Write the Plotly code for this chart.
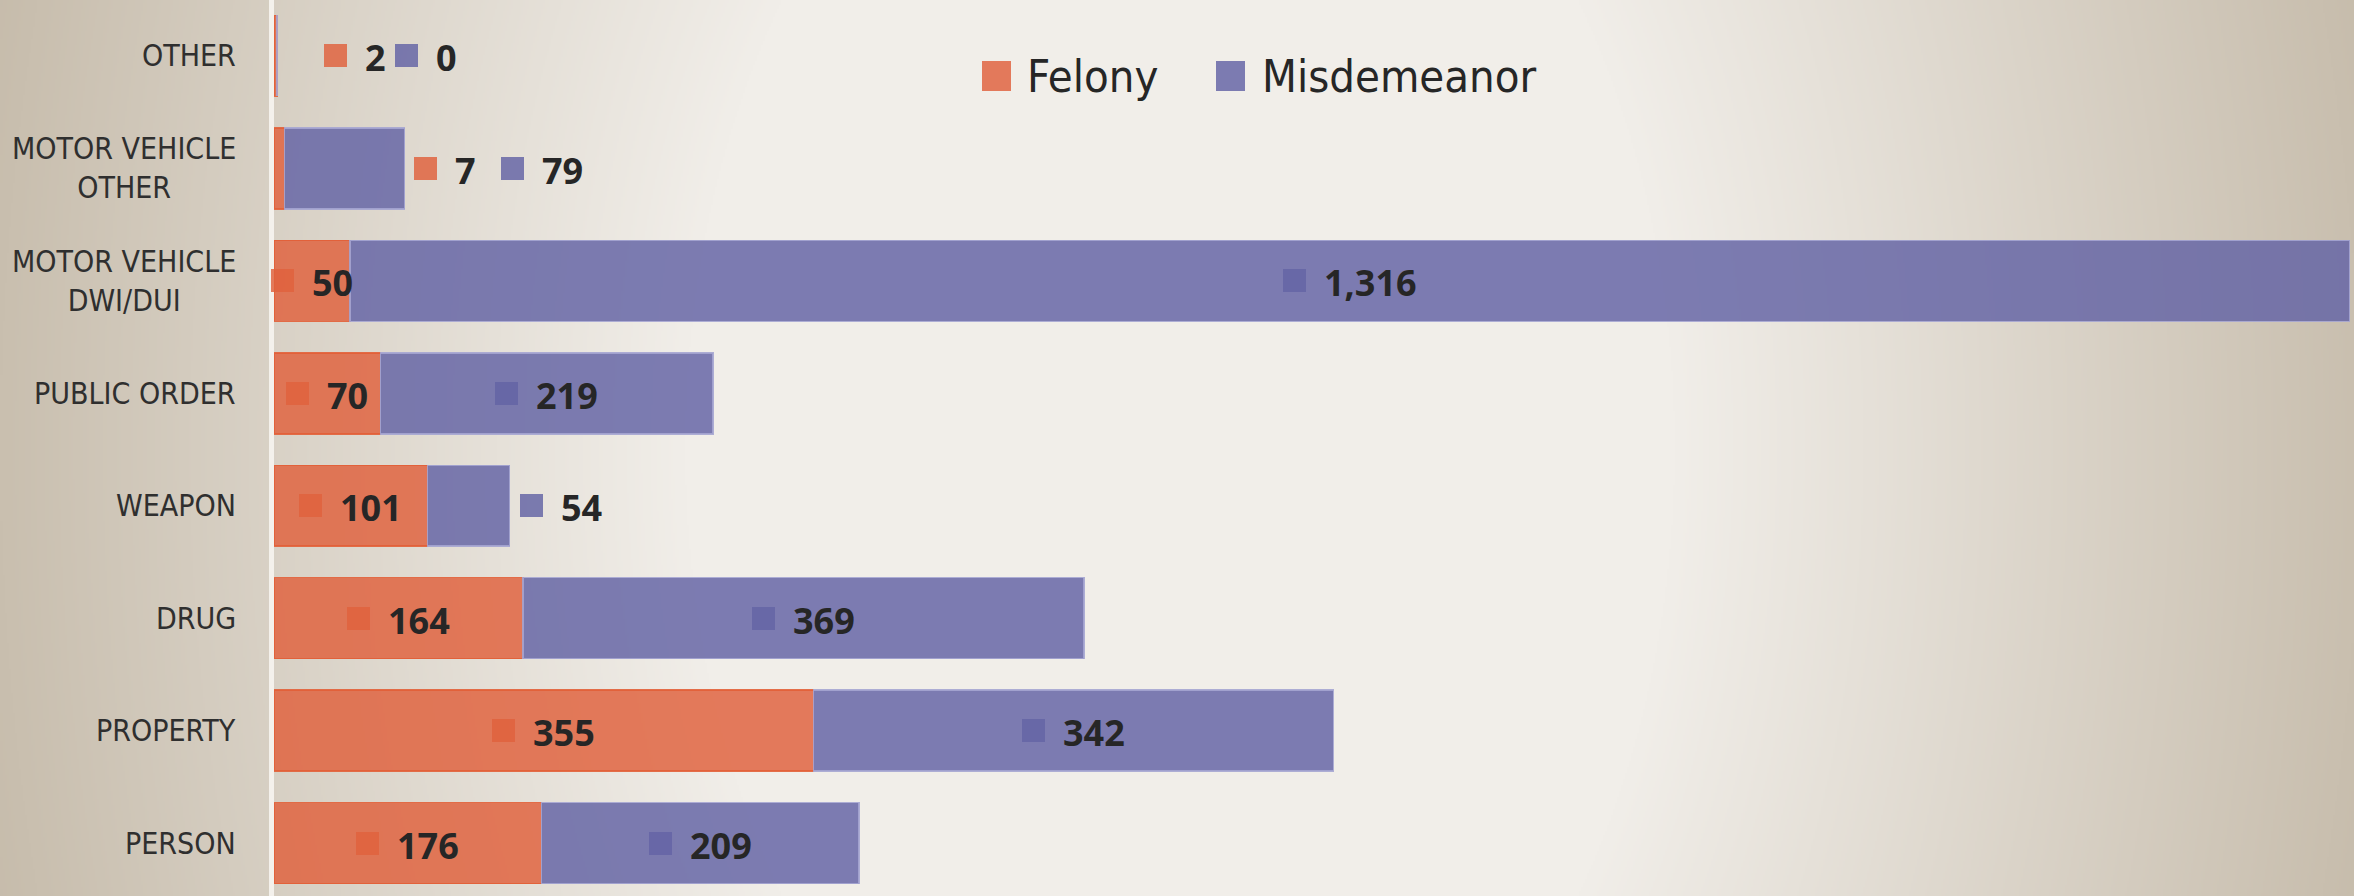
import base64
import struct
import zlib

import numpy as np
import plotly.graph_objects as go

# ---------------- data ----------------
CATEGORIES = ["OTHER", "MOTOR VEHICLE OTHER", "MOTOR VEHICLE DWI/DUI", "PUBLIC ORDER",
              "WEAPON", "DRUG", "PROPERTY", "PERSON"]
CATEGORY_LABELS = ["OTHER", "MOTOR VEHICLE<br>OTHER", "MOTOR VEHICLE<br>DWI/DUI", "PUBLIC ORDER",
                   "WEAPON", "DRUG", "PROPERTY", "PERSON"]
FELONY = [2, 7, 50, 70, 101, 164, 355, 176]
MISDEMEANOR = [0, 79, 1316, 219, 54, 369, 342, 209]
SERIES_NAMES = ["Felony", "Misdemeanor"]

# ---------------- layout / style ----------------
W, H = 2354, 896
ML, MR = 274, 4
PLOT_W = W - ML - MR
ALPHA = 0.83
FEL_RGB = (224, 98, 61)
MIS_RGB = (100, 100, 165)


def rgba(c, a):
    return f"rgba({c[0]},{c[1]},{c[2]},{a})"


LABEL_FONT = "DejaVu Sans Condensed, Open Sans, sans-serif"
NUM_FONT = "Open Sans, Noto Sans, sans-serif"
NUM_SIZE = 36
SQ = 23          # size of the key square inside data labels
SQ_GAP = 18      # gap between key square and number
OUTSIDE_SHIFT = {("OTHER", "Felony"): 47, ("OTHER", "Misdemeanor"): 118,
                 ("MOTOR VEHICLE OTHER", "Felony"): 9, ("MOTOR VEHICLE OTHER", "Misdemeanor"): 96,
                 ("WEAPON", "Misdemeanor"): 10}


# ---------------- background gradient (PNG built in memory) ----------------
def gradient_png(w, h):
    ys, xs = np.mgrid[0:h, 0:w].astype(float)
    sx, sy = W / w, H / h
    dx = (xs + 0.5) * sx - 1180.0
    dy = (ys + 0.5) * sy - 448.0
    t = np.sqrt((dx / 1180.0) ** 2 + (dy / 1800.0) ** 2)
    f = np.clip((t - 0.42) / 0.58, 0, 1.1)
    light = np.array([241, 238, 233], float)
    dark = np.array([201, 191, 175], float)
    img = light[None, None, :] + f[..., None] * (dark - light)[None, None, :]
    img = np.clip(img, 0, 255).astype(np.uint8)
    raw = b"".join(b"\x00" + img[r].tobytes() for r in range(h))

    def chunk(tag, data):
        return (struct.pack(">I", len(data)) + tag + data
                + struct.pack(">I", zlib.crc32(tag + data) & 0xFFFFFFFF))

    png = (b"\x89PNG\r\n\x1a\n"
           + chunk(b"IHDR", struct.pack(">IIBBBBB", w, h, 8, 2, 0, 0, 0))
           + chunk(b"IDAT", zlib.compress(raw, 9))
           + chunk(b"IEND", b""))
    return "data:image/png;base64," + base64.b64encode(png).decode()


fig = go.Figure()
fig.add_trace(go.Bar(
    y=CATEGORIES, x=FELONY, orientation="h", name=SERIES_NAMES[0], width=0.72,
    marker=dict(color=rgba(FEL_RGB, ALPHA), line=dict(color=rgba((226, 95, 55), 0.9), width=1.5)),
    hoverinfo="skip", showlegend=False))
fig.add_trace(go.Bar(
    y=CATEGORIES, x=MISDEMEANOR, orientation="h", name=SERIES_NAMES[1], width=0.72,
    marker=dict(color=rgba(MIS_RGB, ALPHA), line=dict(color="rgba(165,165,210,0.9)", width=1.5)),
    hoverinfo="skip", showlegend=False))

annotations = []

# category labels
for cat, lab in zip(CATEGORIES, CATEGORY_LABELS):
    annotations.append(dict(
        x=0, xref="paper", y=cat, yref="y", text=lab, showarrow=False,
        xanchor="right", yanchor="middle", align="center", xshift=-36,
        font=dict(family=LABEL_FONT, size=30, color="#2f2f2f")))


def num_width(txt):
    return sum(10.0 if ch == "," else 20.6 for ch in txt)


def add_label(cat, series, value, start, rgb):
    txt = f"{value:,}"
    group = SQ + SQ_GAP + num_width(txt)
    outside = (series == "Felony" and value < 20) or (series == "Misdemeanor" and value < 100)
    if outside:
        i = CATEGORIES.index(cat)
        xpos = FELONY[i] + MISDEMEANOR[i]
        shift = OUTSIDE_SHIFT.get((cat, series), 10)
    else:
        xpos = start + value / 2.0
        shift = -group / 2.0
    annotations.append(dict(
        x=xpos, xref="x", y=cat, yref="y", text=" ", showarrow=False,
        xanchor="left", yanchor="middle", xshift=shift, width=SQ, height=SQ,
        bgcolor=rgba(rgb, ALPHA), borderpad=0, borderwidth=0, font=dict(size=4)))
    annotations.append(dict(
        x=xpos, xref="x", y=cat, yref="y", text=txt, showarrow=False,
        xanchor="left", yanchor="middle", xshift=shift + SQ + SQ_GAP, yshift=-2,
        borderpad=0, borderwidth=0,
        font=dict(family=NUM_FONT, size=NUM_SIZE, color="#262626", weight=700)))


for cat, f, m in zip(CATEGORIES, FELONY, MISDEMEANOR):
    add_label(cat, "Felony", f, 0, FEL_RGB)
    add_label(cat, "Misdemeanor", m, f, MIS_RGB)


# custom legend
def px_to_paper_x(px):
    return (px - ML) / PLOT_W


def px_to_paper_y(py):
    return 1 - py / H


legend_items = [(SERIES_NAMES[0], FEL_RGB, 982, 1027), (SERIES_NAMES[1], MIS_RGB, 1216, 1262)]
for name, rgb, sqx, tx in legend_items:
    annotations.append(dict(
        x=px_to_paper_x(sqx), xref="paper", y=px_to_paper_y(76), yref="paper", text=" ",
        showarrow=False, xanchor="left", yanchor="middle", width=29, height=30,
        bgcolor=rgba(rgb, ALPHA), borderpad=0, borderwidth=0, font=dict(size=4)))
    annotations.append(dict(
        x=px_to_paper_x(tx), xref="paper", y=px_to_paper_y(76), yref="paper", text=name,
        showarrow=False, xanchor="left", yanchor="middle", borderpad=0, borderwidth=0,
        font=dict(family=LABEL_FONT, size=45, color="#262626")))

fig.update_layout(
    width=W, height=H,
    margin=dict(l=ML, r=MR, t=0, b=0, pad=0),
    barmode="stack",
    paper_bgcolor="#efece6",
    plot_bgcolor="rgba(0,0,0,0)",
    xaxis=dict(range=[0, 1366], showgrid=False, zeroline=False, showticklabels=False,
               showline=False, fixedrange=True),
    yaxis=dict(type="category", categoryorder="array", categoryarray=CATEGORIES,
               range=[7.469, -0.4956], autorange=False, showgrid=False, zeroline=False,
               showticklabels=False, showline=True, linecolor="#f4f1ec", linewidth=5,
               ticks=""),
    annotations=annotations,
    images=[dict(source=gradient_png(1177, 448), xref="paper", yref="paper",
                 x=-ML / PLOT_W, y=1, sizex=W / PLOT_W, sizey=1,
                 xanchor="left", yanchor="top", sizing="stretch", layer="below")],
    showlegend=False,
)

fig.write_html("out.html", config={"displayModeBar": False},
               post_script="document.body.style.margin='0';document.body.style.overflow='hidden';")
